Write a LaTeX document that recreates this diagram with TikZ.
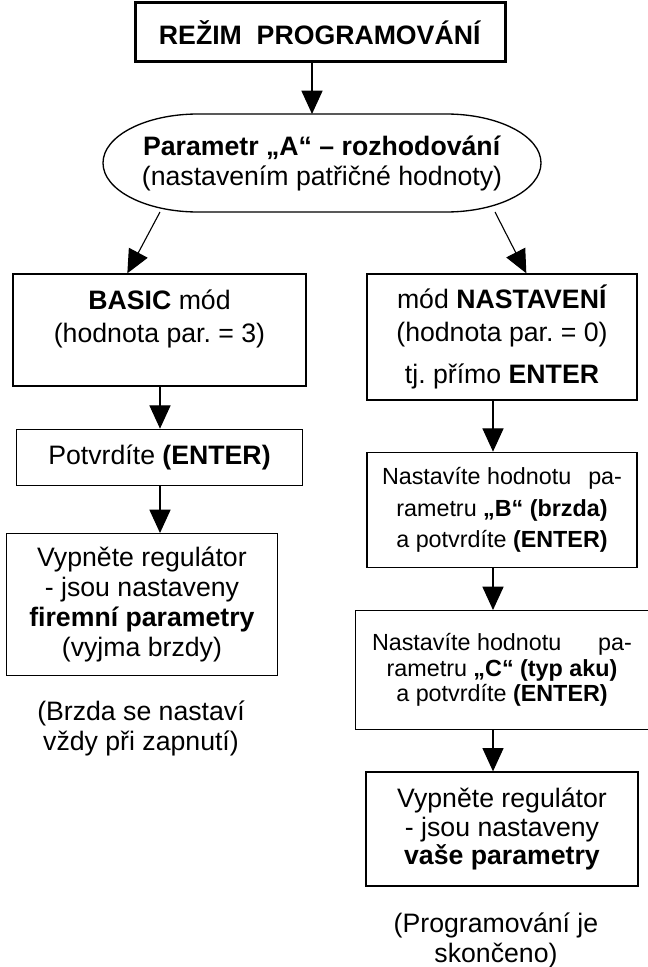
\documentclass[tikz,border=0pt]{standalone}
\usepackage{fontspec}
\setmainfont{Liberation Sans}
\usepackage{tikz}
\usetikzlibrary{arrows.meta}
\usetikzlibrary{calc, positioning}
\frenchspacing

\begin{document}
\begin{tikzpicture}[x=0.45pt, y=-0.45pt, >={Triangle[length=10.5pt,width=9.5pt]}, semithick, node distance=18.9pt]
	\tikzstyle{every node}=[font=\fontsize{12}{13.8}\selectfont, align=center, inner sep=1pt]
	\tikzstyle{stepbox}=[draw, rectangle, line width=0.6pt]
	\tikzstyle{smallbox}=[stepbox, font=\fontsize{10.5}{14}\selectfont]
	\tikzstyle{arr}=[->, line width=0.5pt]
	
	\useasboundingbox (0,0) rectangle (647,967);
	
	\node[stepbox, line width=1.35pt, minimum width=166.5pt, minimum height=26.55pt] (rezim) at (320,32.5) {\textbf{REŽIM\ \ PROGRAMOVÁNÍ}};
	\node[minimum width=197.1pt, minimum height=44.1pt, outer sep=0pt, font=\fontsize{12}{13.5}\selectfont] (paramA) at (322,163) {\textbf{Parametr „A“ – rozhodování}\\(nastavením patřičné hodnoty)};
	\draw ($(paramA.north west)+(95,0)$) -- ($(paramA.north east)+(-95,0)$)
	arc[start angle=90, end angle=-90, x radius=42.75pt, y radius=22.05pt]
	-- ($(paramA.south west)+(95,0)$)
	arc[start angle=270, end angle=90, x radius=42.75pt, y radius=22.05pt] -- cycle;
	
	\node[stepbox, minimum width=131.85pt, minimum height=50.4pt] (basic) at (159.5,330) {\textbf{BASIC} mód\\[1pt](hodnota par. = 3)\\[-1pt]~};
	\node[stepbox, minimum width=128.7pt, minimum height=25.2pt] (potvrd) [below=of basic] {Potvrdíte \textbf{(ENTER)}};
	\node[stepbox, minimum width=121.95pt, minimum height=63.9pt, font=\fontsize{12}{13.5}\selectfont] (vypnuti) [below=21.15pt of potvrd, xshift=-7.9pt] {Vypněte regulátor\\- jsou nastaveny\\\textbf{firemní parametry}\\(vyjma brzdy)};
	\node[font=\fontsize{12}{13.5}\selectfont] (brzdaPozn) at (141,728) {(Brzda se nastaví\\vždy při zapnutí)};
	
	\node[stepbox, minimum width=121.5pt, minimum height=56.7pt] (nastaveni) at (502,337) {mód \textbf{NASTAVENÍ}\\[1pt](hodnota par. = 0)\\[5pt]tj. přímo \textbf{ENTER}};
	\node[smallbox, minimum width=121.5pt, minimum height=51.75pt] (parB) [below=22.95pt of nastaveni] {\hbox to 108pt{Nastavíte hodnotu\hfill pa-}\\rametru \textbf{„B“ (brzda)}\\a potvrdíte \textbf{(ENTER)}};
	\node[smallbox, font=\fontsize{10.5}{11.5}\selectfont, minimum width=131.85pt, minimum height=53.55pt] (parC) [below=of parB] {\hbox to 117pt{Nastavíte hodnotu\hfill pa-}\\rametru \textbf{„C“ (typ aku)}\\a potvrdíte \textbf{(ENTER)}};
	\node[stepbox, minimum width=122.4pt, minimum height=51.3pt, font=\fontsize{12}{12.8}\selectfont] (konec) [below=18.45pt of parC] {Vypněte regulátor\\- jsou nastaveny\\\textbf{vaše parametry}};
	\node[font=\fontsize{12}{13.5}\selectfont] (konecPozn) at (496,940) {(Programování je\\skončeno)};
	
	\coordinate (tcol) at (312,0);
	\coordinate (lcol) at (160,0);
	\coordinate (rcol) at (493,0);
	
	\path[arr]
	(rezim.south -| tcol) edge (paramA.north -| tcol)
	($(paramA.south west)+(57,0)$) edge ($(basic.north west)+(115,0)$)
	($(paramA.south east)+(-46,0)$) edge ($(nastaveni.north west)+(160,0)$)
	(basic.south -| lcol) edge (potvrd.north -| lcol)
	(potvrd.south -| lcol) edge (vypnuti.north -| lcol)
	(nastaveni.south -| rcol) edge (parB.north -| rcol)
	(parB.south -| rcol) edge (parC.north -| rcol)
	(parC.south -| rcol) edge (konec.north -| rcol);
\end{tikzpicture}
\end{document}
